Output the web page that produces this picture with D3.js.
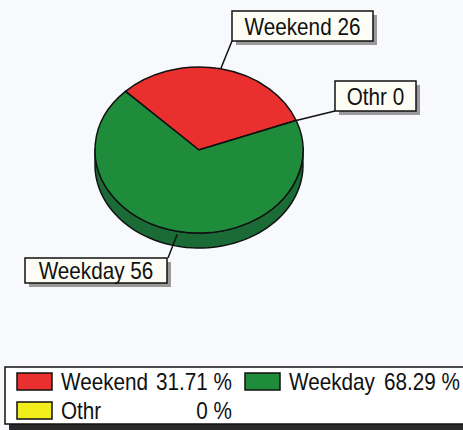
<!DOCTYPE html>
<html>
<head>
<meta charset="utf-8">
<script src="https://cdn.jsdelivr.net/npm/d3@7"></script>
<style>
  body { margin: 0; background: #f8f9fc; }
  svg { display: block; font-family: "Liberation Sans", Arial, sans-serif; }
</style>
</head>
<body>
<svg width="463" height="430"></svg>
<script>
// slices, in clockwise order from the top-left edge
const names = ["Weekend", "Othr", "Weekday"];
const counts = [26, 0, 56];
const fills = ["#e9302e", "#f2ee1c", "#1f8c3b"];
const sideFill = "#1b6b37";
// legend order
const legendNames = ["Weekend", "Weekday", "Othr"];

const cx = 199, cy = 150, rx = 104, ry = 83, depth = 15;
const k = ry / rx;
const total = d3.sum(counts);
const squeeze = 0.9;   // text looks a bit condensed in the original

const svg = d3.select("svg");

const pie = d3.pie().sort(null).value(d => d)
    .startAngle(-Math.PI / 4).endAngle(Math.PI * 7 / 4);
const arcs = pie(counts);
const arc = d3.arc().innerRadius(0).outerRadius(rx);

const g = svg.append("g")
    .attr("transform", `translate(${cx},${cy}) scale(1,${k})`);

// side wall (lower half, all weekday)
let sidePts = [];
d3.range(88, 273, 3).forEach(a => {
    let t = a * Math.PI / 180;
    sidePts.push([rx * Math.sin(t), -rx * Math.cos(t)]);
});
let lower = sidePts.map(p => [p[0], p[1] + depth / k]).reverse();
g.append("path")
    .attr("d", d3.line()(sidePts.concat(lower)) + "Z")
    .attr("fill", sideFill)
    .attr("stroke", "#111")
    .attr("stroke-width", 1.5)
    .attr("vector-effect", "non-scaling-stroke");

g.selectAll("path.slice")
    .data(arcs)
    .enter()
    .append("path")
    .attr("class", "slice")
    .attr("d", arc)
    .attr("fill", (d, i) => fills[i])
    .attr("stroke", "#111")
    .attr("stroke-width", 1.5)
    .attr("vector-effect", "non-scaling-stroke");

// point on the ellipse rim for an angle
function rim(a) {
    return [cx + rx * Math.sin(a), cy - ry * Math.cos(a)];
}

function label(x, y, str, anchor) {
    svg.append("text")
        .attr("transform", `translate(${x},${y}) scale(${squeeze},1)`)
        .attr("text-anchor", anchor)
        .attr("font-size", "23px")
        .attr("fill", "#111")
        .text(str);
}

// callout labels
const boxes = [
    { x: 232, y: 11, w: 141, h: 30, anchor: [232, 41], at: d => (d.startAngle + d.endAngle) / 2 },
    { x: 335, y: 81, w: 81, h: 30, anchor: [335, 111], at: d => d.startAngle },
    { x: 25, y: 258, w: 142, h: 25, anchor: [168, 258], at: d => (d.startAngle + d.endAngle) / 2 }
];

arcs.forEach((d, i) => {
    let b = boxes[i];
    let p = rim(b.at(d));
    if (i == 2) p[1] += 3;
    svg.append("line")
        .attr("x1", p[0]).attr("y1", p[1])
        .attr("x2", b.anchor[0]).attr("y2", b.anchor[1])
        .attr("stroke", "#111")
        .attr("stroke-width", 1.5);
    svg.append("rect")
        .attr("x", b.x + 4).attr("y", b.y + 4)
        .attr("width", b.w).attr("height", b.h)
        .attr("fill", "#9a9a9a");
    svg.append("rect")
        .attr("x", b.x).attr("y", b.y)
        .attr("width", b.w).attr("height", b.h)
        .attr("fill", "#fdfdf6")
        .attr("stroke", "#111")
        .attr("stroke-width", 1.5);
    label(b.x + b.w / 2, b.y + b.h / 2 + 8.5, names[i] + " " + d.data, "middle");
});

// legend
svg.append("rect")
    .attr("x", 9).attr("y", 371)
    .attr("width", 470).attr("height", 59)
    .attr("fill", "#2a2a2a");
svg.append("rect")
    .attr("x", 5).attr("y", 367)
    .attr("width", 470).attr("height", 57)
    .attr("fill", "#ffffff")
    .attr("stroke", "#111")
    .attr("stroke-width", 1.5);

const legendPos = [[17, 373], [245, 373], [17, 402]];
legendNames.forEach((n, j) => {
    let i = names.indexOf(n);
    let pos = legendPos[j];
    let pct = d3.format(".2f")(counts[i] / total * 100);
    if (counts[i] == 0) pct = "0";
    svg.append("rect")
        .attr("x", pos[0]).attr("y", pos[1])
        .attr("width", 35).attr("height", 17)
        .attr("fill", fills[i])
        .attr("stroke", "#111")
        .attr("stroke-width", 1.5);
    label(pos[0] + 44, pos[1] + 17, n, "start");
    label(pos[0] + 215, pos[1] + 17, pct + " %", "end");
});
</script>
</body>
</html>
